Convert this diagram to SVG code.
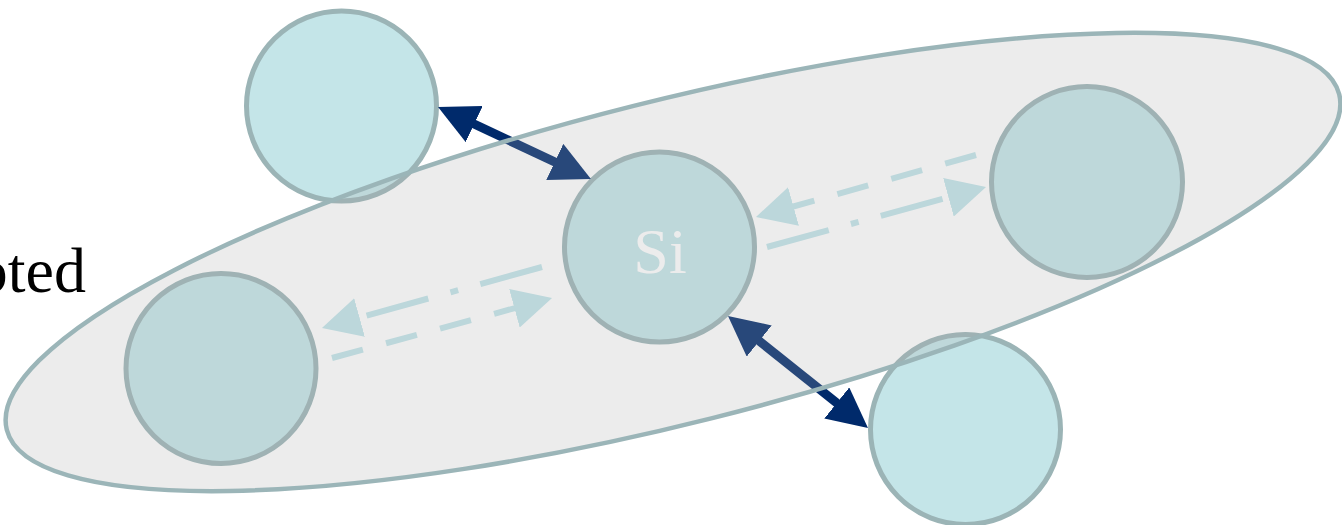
<svg xmlns="http://www.w3.org/2000/svg" width="1342" height="525" viewBox="0 0 1342 525">
  <style>
    .atom { fill: #c4e5e8; stroke: #9bb4b6; stroke-width: 5; }
    .lbl { font-family: "Liberation Serif", "Times New Roman", serif; }
    .bond { fill: none; stroke: #002a6b; stroke-width: 9; }
    .weak { fill: none; stroke: #c1e4e9; stroke-width: 6; }
    .dash { stroke-dasharray: 32 24; }
    .dashdot { stroke-dasharray: 64 23 8 23; }
    .cluster { fill: #acacac; fill-opacity: 0.23; stroke: #9bb5b8; stroke-width: 4.5; }
  </style>
  <defs>
    <marker id="navyHead" markerUnits="userSpaceOnUse" markerWidth="40" markerHeight="40" viewBox="0 0 40 40" refX="29" refY="20" orient="auto-start-reverse">
      <path d="M0,0 L40,20 L0,40 Z" fill="#002a6b" stroke="none"/>
    </marker>
    <marker id="lightHead" markerUnits="userSpaceOnUse" markerWidth="40" markerHeight="40" viewBox="0 0 40 40" refX="29" refY="20" orient="auto">
      <path d="M0,0 L39,20 L0,40 Z" fill="#c1e4e9" stroke="none"/>
    </marker>
  </defs>

  <rect x="0" y="0" width="1342" height="525" fill="#ffffff"/>

  <text class="lbl" x="86" y="292" font-size="64" text-anchor="end" fill="#000000">pted</text>

  <g id="atom-top-left">
    <circle class="atom" cx="341.5" cy="106" r="95"/>
  </g>
  <g id="atom-left">
    <circle class="atom" cx="221" cy="368.5" r="95"/>
  </g>
  <g id="atom-si">
    <circle class="atom" cx="659.5" cy="247" r="95"/>
    <text class="lbl" x="660" y="273" font-size="64" text-anchor="middle" fill="#ffffff">Si</text>
  </g>
  <g id="atom-right">
    <circle class="atom" cx="1087" cy="182" r="95.5"/>
  </g>
  <g id="atom-bottom-right">
    <circle class="atom" cx="965.5" cy="429.5" r="95"/>
  </g>

  <g id="connectors">
    <path class="bond" d="M448,111.7 L581,174.3" marker-start="url(#navyHead)" marker-end="url(#navyHead)"/>
    <path class="bond" d="M736.6,322.9 L859.4,421.1" marker-start="url(#navyHead)" marker-end="url(#navyHead)"/>
    <path class="weak dash" d="M332,358 L542.4,300.6" marker-end="url(#lightHead)"/>
    <path class="weak dashdot" d="M542,267 L331.6,325.3" marker-end="url(#lightHead)"/>
    <path class="weak dashdot" d="M767,247 L976.4,189.6" marker-end="url(#lightHead)"/>
    <path class="weak dash" d="M976,155 L765.6,214.3" marker-end="url(#lightHead)"/>
  </g>

  <g id="cluster">
    <ellipse class="cluster" cx="0" cy="0" rx="687" ry="161" transform="translate(673 262) rotate(-14.13)"/>
  </g>
</svg>
